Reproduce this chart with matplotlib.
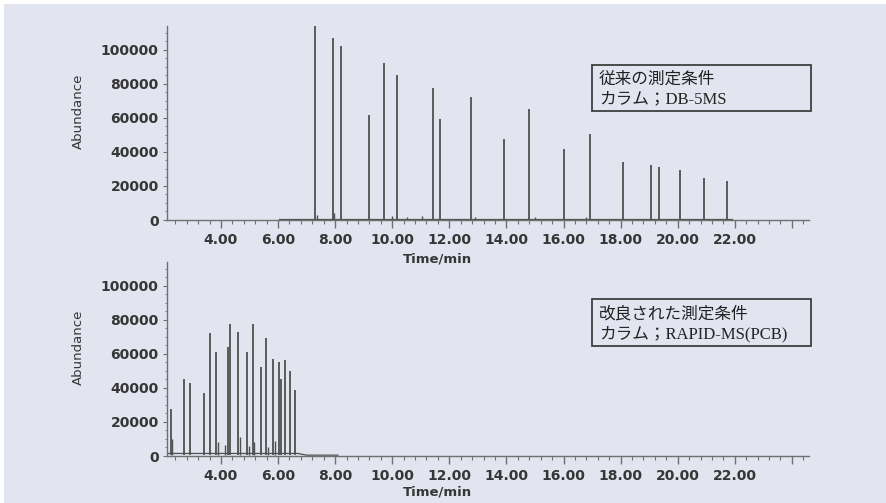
import matplotlib
matplotlib.use('Agg')
import matplotlib.pyplot as plt
from matplotlib.patches import Rectangle
from matplotlib.ticker import FixedLocator, MultipleLocator

plt.rcParams['font.family'] = 'DejaVu Sans'

# upper chromatogram (DB-5MS), peak times [min] and heights
top_t = [7.29, 7.93, 8.22, 9.19, 9.72, 10.17, 11.43, 11.67, 12.75, 13.91,
         14.80, 16.02, 16.92, 18.10, 19.06, 19.35, 20.07, 20.92, 21.73]
top_h = [114000, 106900, 102500, 61800, 92500, 85300, 77500, 59200, 72500, 47500,
         65300, 41600, 50800, 34100, 32200, 31400, 29400, 24500, 23100]
top_small_t = [7.36, 7.97, 9.98, 10.50, 11.05, 12.90, 15.00, 16.80]
top_small_h = [3000, 4000, 2500, 2000, 2500, 2000, 1800, 1800]
top_base_t = [6.05, 21.90]
top_base_v = [800, 800]

# lower chromatogram (RAPID-MS(PCB))
bot_t = [2.24, 2.69, 2.90, 3.42, 3.63, 3.81, 4.23, 4.30, 4.61, 4.91, 5.12,
         5.39, 5.59, 5.83, 6.03, 6.09, 6.25, 6.43, 6.59]
bot_h = [27900, 45100, 42800, 37300, 72400, 61200, 64100, 77300, 72600, 61200, 77300,
         52400, 69400, 56900, 55300, 45100, 56700, 50200, 38800]
bot_small_t = [2.28, 3.91, 4.15, 4.66, 5.00, 5.17, 5.65, 5.88]
bot_small_h = [10000, 8200, 6300, 11200, 6000, 8000, 5000, 9000]
bot_base_t = [2.11, 2.35, 6.70, 7.00, 8.10]
bot_base_v = [1500, 1500, 1500, 500, 500]

major_x = [4, 6, 8, 10, 12, 14, 16, 18, 20, 22, 24]
major_x_labels = ['4.00', '6.00', '8.00', '10.00', '12.00', '14.00', '16.00',
                  '18.00', '20.00', '22.00', '']
y_ticks = [0, 20000, 40000, 60000, 80000, 100000]

notes = [['従来の測定条件', 'カラム；DB-5MS'],
         ['改良された測定条件', 'カラム；RAPID-MS(PCB)']]

W, H = 886, 503
fig = plt.figure(figsize=(W / 100, H / 100), dpi=100, facecolor='white')
fig.patches.append(Rectangle((4 / W, 0), 1, 1 - 4 / H, transform=fig.transFigure,
                             facecolor='#e2e4f0', edgecolor='none', zorder=-10))

line_c = '#505050'
axis_c = '#707070'
text_c = '#363636'


def px_axes(left, right, top, bottom):
    return fig.add_axes([left / W, 1 - bottom / H, (right - left) / W, (bottom - top) / H])


panels = [
    (px_axes(167, 809, 26, 220), top_t, top_h, top_small_t, top_small_h, top_base_t, top_base_v, -0.165),
    (px_axes(167, 809, 262, 456), bot_t, bot_h, bot_small_t, bot_small_h, bot_base_t, bot_base_v, -0.15),
]

for ax, t, h, st, sh, bt, bv, xl_y in panels:
    ax.set_facecolor('none')
    ax.plot(bt, bv, color=line_c, lw=0.9)
    ax.vlines(t, 600, h, color=line_c, lw=1.3)
    ax.vlines(st, 600, sh, color=line_c, lw=1.0)
    ax.set_xlim(2.11, 24.6)
    ax.set_ylim(0, 114000)
    for s in ['top', 'right']:
        ax.spines[s].set_visible(False)
    for s in ['left', 'bottom']:
        ax.spines[s].set_color(axis_c)
        ax.spines[s].set_linewidth(1.0)
    ax.xaxis.set_major_locator(FixedLocator(major_x))
    ax.set_xticklabels(major_x_labels, fontweight='bold')
    ax.xaxis.set_minor_locator(MultipleLocator(0.4))
    ax.yaxis.set_major_locator(FixedLocator(y_ticks))
    ax.set_yticklabels([str(v) for v in y_ticks], fontweight='bold')
    ax.yaxis.set_minor_locator(MultipleLocator(5000))
    ax.tick_params(axis='x', which='major', length=6, width=1.0, color=axis_c,
                   labelsize=10, labelcolor=text_c, pad=3)
    ax.tick_params(axis='x', which='minor', length=3, width=0.8, color=axis_c)
    ax.tick_params(axis='y', which='major', length=3, width=0.8, color=axis_c,
                   labelsize=10, labelcolor=text_c, pad=3)
    ax.tick_params(axis='y', which='minor', length=1.5, width=0.6, color=axis_c)
    ax.set_xlabel('Time/min', fontsize=9.5, fontweight='bold', color=text_c)
    ax.xaxis.set_label_coords(0.422, xl_y)
    ax.set_ylabel('Abundance', fontsize=9.5, color=text_c)
    ax.yaxis.set_label_coords(-0.128, 0.56)

# condition boxes
box_pos = [(592, 65, 811, 111), (592, 299, 811, 346)]
for (x0, y0, x1, y1), lines in zip(box_pos, notes):
    fig.patches.append(Rectangle((x0 / W, 1 - y1 / H), (x1 - x0) / W, (y1 - y0) / H,
                                 transform=fig.transFigure, facecolor='none',
                                 edgecolor='#404040', lw=1.3, zorder=5))
    hgt = y1 - y0
    for i, s in enumerate(lines):
        fig.text((x0 + 7) / W, 1 - (y0 + hgt * (0.32 + 0.42 * i)) / H, s,
                 family=['Liberation Serif', 'Noto Sans CJK JP'], fontsize=12,
                 color='#222222', va='center', ha='left')

fig.savefig('out.png', dpi=100, facecolor='white')
